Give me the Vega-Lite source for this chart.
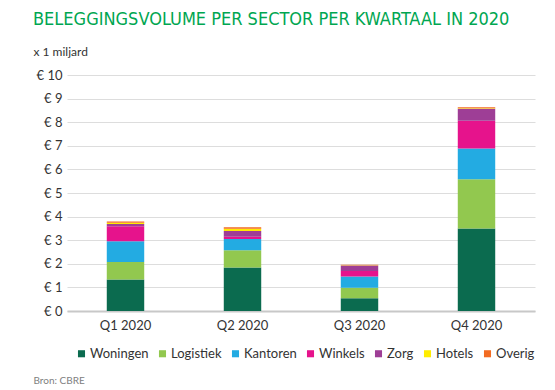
{
  "$schema": "https://vega.github.io/schema/vega-lite/v6.json",
  "autosize": "none",
  "width": 468,
  "height": 236,
  "padding": {"left": 67, "top": 75, "right": 20, "bottom": 79},
  "background": "white",
  "title": {
    "text": "BELEGGINGSVOLUME PER SECTOR PER KWARTAAL IN 2020",
    "anchor": "start",
    "offset": 16,
    "font": "Liberation Sans Narrow, DejaVu Sans Condensed",
    "fontSize": 18,
    "fontWeight": "normal",
    "color": "#00A651"
  },
  "data": {
    "values": [
      {"kwartaal": "Q1 2020", "sector": "Woningen", "k": 1, "waarde": 1.33},
      {"kwartaal": "Q1 2020", "sector": "Logistiek", "k": 2, "waarde": 0.75},
      {"kwartaal": "Q1 2020", "sector": "Kantoren", "k": 3, "waarde": 0.88},
      {"kwartaal": "Q1 2020", "sector": "Winkels", "k": 4, "waarde": 0.63},
      {"kwartaal": "Q1 2020", "sector": "Zorg", "k": 5, "waarde": 0.1},
      {"kwartaal": "Q1 2020", "sector": "Hotels", "k": 6, "waarde": 0.05},
      {"kwartaal": "Q1 2020", "sector": "Overig", "k": 7, "waarde": 0.05},
      {"kwartaal": "Q2 2020", "sector": "Woningen", "k": 1, "waarde": 1.84},
      {"kwartaal": "Q2 2020", "sector": "Logistiek", "k": 2, "waarde": 0.73},
      {"kwartaal": "Q2 2020", "sector": "Kantoren", "k": 3, "waarde": 0.48},
      {"kwartaal": "Q2 2020", "sector": "Winkels", "k": 4, "waarde": 0.1},
      {"kwartaal": "Q2 2020", "sector": "Zorg", "k": 5, "waarde": 0.24},
      {"kwartaal": "Q2 2020", "sector": "Hotels", "k": 6, "waarde": 0.1},
      {"kwartaal": "Q2 2020", "sector": "Overig", "k": 7, "waarde": 0.06},
      {"kwartaal": "Q3 2020", "sector": "Woningen", "k": 1, "waarde": 0.54},
      {"kwartaal": "Q3 2020", "sector": "Logistiek", "k": 2, "waarde": 0.45},
      {"kwartaal": "Q3 2020", "sector": "Kantoren", "k": 3, "waarde": 0.47},
      {"kwartaal": "Q3 2020", "sector": "Winkels", "k": 4, "waarde": 0.24},
      {"kwartaal": "Q3 2020", "sector": "Zorg", "k": 5, "waarde": 0.23},
      {"kwartaal": "Q3 2020", "sector": "Hotels", "k": 6, "waarde": 0.01},
      {"kwartaal": "Q3 2020", "sector": "Overig", "k": 7, "waarde": 0.02},
      {"kwartaal": "Q4 2020", "sector": "Woningen", "k": 1, "waarde": 3.5},
      {"kwartaal": "Q4 2020", "sector": "Logistiek", "k": 2, "waarde": 2.08},
      {"kwartaal": "Q4 2020", "sector": "Kantoren", "k": 3, "waarde": 1.31},
      {"kwartaal": "Q4 2020", "sector": "Winkels", "k": 4, "waarde": 1.17},
      {"kwartaal": "Q4 2020", "sector": "Zorg", "k": 5, "waarde": 0.51},
      {"kwartaal": "Q4 2020", "sector": "Hotels", "k": 6, "waarde": 0.02},
      {"kwartaal": "Q4 2020", "sector": "Overig", "k": 7, "waarde": 0.04}
    ]
  },
  "mark": {"type": "bar"},
  "encoding": {
    "x": {
      "field": "kwartaal",
      "type": "nominal",
      "scale": {"paddingInner": 0.68, "paddingOuter": 0.34},
      "axis": {
        "title": "Bron: CBRE",
        "titleFont": "Lato",
        "titleFontSize": 10,
        "titleFontWeight": "normal",
        "titleColor": "#808080",
        "titleAnchor": "start",
        "titleAlign": "left",
        "titleBaseline": "middle",
        "titleX": -34,
        "titleY": 69,
        "labelAngle": 0,
        "labelFont": "Lato",
        "labelFontSize": 13,
        "labelColor": "#333333",
        "labelPadding": 8,
        "ticks": false,
        "domainColor": "#c8c8c8",
        "domainWidth": 2
      }
    },
    "y": {
      "field": "waarde",
      "type": "quantitative",
      "stack": "zero",
      "scale": {"domain": [0, 10], "nice": false},
      "axis": {
        "values": [0, 1, 2, 3, 4, 5, 6, 7, 8, 9, 10],
        "labelExpr": "'€ ' + datum.value",
        "labelFont": "Lato",
        "labelFontSize": 13,
        "labelColor": "#333333",
        "labelPadding": 5,
        "ticks": false,
        "domain": false,
        "grid": true,
        "gridColor": "#dddddd",
        "gridWidth": 1,
        "title": "x 1 miljard",
        "titleFont": "Lato",
        "titleFontSize": 12,
        "titleFontWeight": "normal",
        "titleColor": "#333333",
        "titleAngle": 0,
        "titleAlign": "left",
        "titleBaseline": "middle",
        "titleX": -34,
        "titleY": -24
      }
    },
    "color": {
      "field": "sector",
      "type": "nominal",
      "scale": {
        "domain": ["Woningen", "Logistiek", "Kantoren", "Winkels", "Zorg", "Hotels", "Overig"],
        "range": ["#0B6B4F", "#92C84F", "#23ABE2", "#E6138C", "#9E3E96", "#FFED00", "#F26B22"]
      },
      "legend": {
        "title": null,
        "orient": "none",
        "legendX": 8,
        "legendY": 272,
        "direction": "horizontal",
        "columns": 7,
        "symbolType": "square",
        "symbolSize": 50,
        "symbolStrokeWidth": 0,
        "labelFont": "Lato",
        "labelFontSize": 13,
        "labelColor": "#333333",
        "labelOffset": 2,
        "columnPadding": 7,
        "padding": 0
      }
    },
    "order": {"field": "k", "type": "quantitative", "sort": "ascending"}
  },
  "config": {"view": {"stroke": null}}
}
